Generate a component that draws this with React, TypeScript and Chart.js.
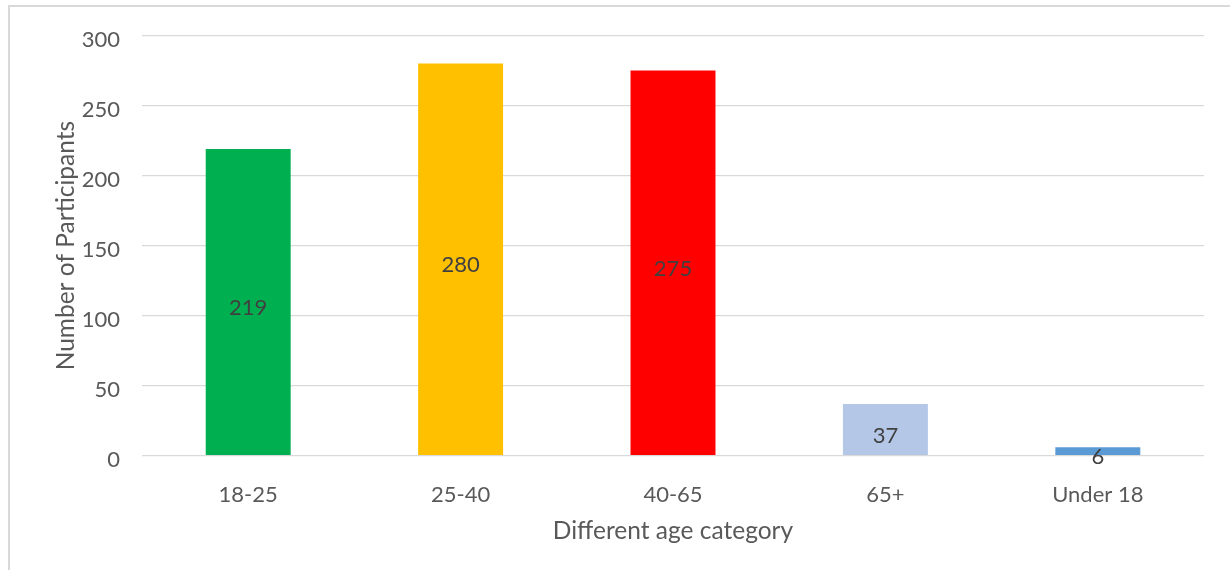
import React, { useEffect, useRef } from "react";
import { Chart, registerables } from "chart.js";

Chart.register(...registerables);

// Age groups and how many participants fell into each
const categories = ["18-25", "25-40", "40-65", "65+", "Under 18"];
const participants = [219, 280, 275, 37, 6];
const barColors = ["#00B050", "#FFC000", "#FF0000", "#B4C7E7", "#5B9BD5"];
const yMin = 0;
const yMax = 300;
const yStep = 50;

const FONT = "Lato, 'Noto Sans', sans-serif";
const TEXT_GREY = "#595959";

// Writes each bar's value in the middle of the bar
const valueLabels = {
  id: "valueLabels",
  afterDatasetsDraw(chart: any) {
    const { ctx } = chart;
    const meta = chart.getDatasetMeta(0);
    ctx.save();
    ctx.font = `22px ${FONT}`;
    ctx.fillStyle = "#404040";
    ctx.textAlign = "center";
    ctx.textBaseline = "middle";
    meta.data.forEach((bar: any, i: number) => {
      const { x, y, base } = bar.getProps(["x", "y", "base"], true);
      ctx.fillText(String(participants[i]), x, (y + base) / 2 + 6);
    });
    ctx.restore();
  },
};

export default function App() {
  const canvasRef = useRef<HTMLCanvasElement | null>(null);

  useEffect(() => {
    const canvas = canvasRef.current;
    if (!canvas) return;
    const chart = new Chart(canvas, {
      type: "bar",
      data: {
        labels: categories,
        datasets: [
          {
            label: "Number of Participants",
            data: participants,
            backgroundColor: barColors,
            borderWidth: 0,
            barPercentage: 0.4,
            categoryPercentage: 1,
          },
        ],
      },
      options: {
        responsive: false,
        animation: false,
        devicePixelRatio: 1,
        layout: { padding: { top: 35.5, right: 26, bottom: 0, left: 0 } },
        plugins: {
          legend: { display: false },
          tooltip: { enabled: false },
        },
        scales: {
          x: {
            grid: { display: false },
            border: { display: false },
            ticks: {
              color: TEXT_GREY,
              font: { family: FONT, size: 22 },
              padding: 18,
              maxRotation: 0,
            },
            title: {
              display: true,
              text: "Different age category",
              color: TEXT_GREY,
              font: { family: FONT, size: 24.5 },
              padding: { top: 0, bottom: 24 },
            },
            afterFit(scale: any) {
              scale.height = 114.3;
            },
          },
          y: {
            min: yMin,
            max: yMax,
            grid: { color: "#D9D9D9", lineWidth: 1.3, drawTicks: false },
            border: { display: false },
            ticks: {
              stepSize: yStep,
              color: TEXT_GREY,
              font: { family: FONT, size: 22 },
              padding: 22,
              labelOffset: 4,
            },
            title: {
              display: true,
              text: "Number of Participants",
              color: TEXT_GREY,
              font: { family: FONT, size: 24.5 },
              padding: { top: 51, bottom: 0 },
            },
            afterFit(scale: any) {
              scale.width = 142;
            },
          },
        },
      },
      plugins: [valueLabels],
    });
    return () => chart.destroy();
  }, []);

  return (
    <div
      style={{
        position: "fixed",
        left: 0,
        top: 0,
        width: 1230,
        height: 570,
        overflow: "hidden",
        background: "#FFFFFF",
      }}
    >
      <div
        style={{
          position: "absolute",
          left: 8,
          top: 5,
          width: 1300,
          height: 700,
          borderLeft: "2px solid #D9D9D9",
          borderTop: "2px solid #D9D9D9",
        }}
      />
      <canvas
        ref={canvasRef}
        width={1230}
        height={570}
        style={{ position: "absolute", left: 0, top: 0, width: 1230, height: 570 }}
      />
    </div>
  );
}
